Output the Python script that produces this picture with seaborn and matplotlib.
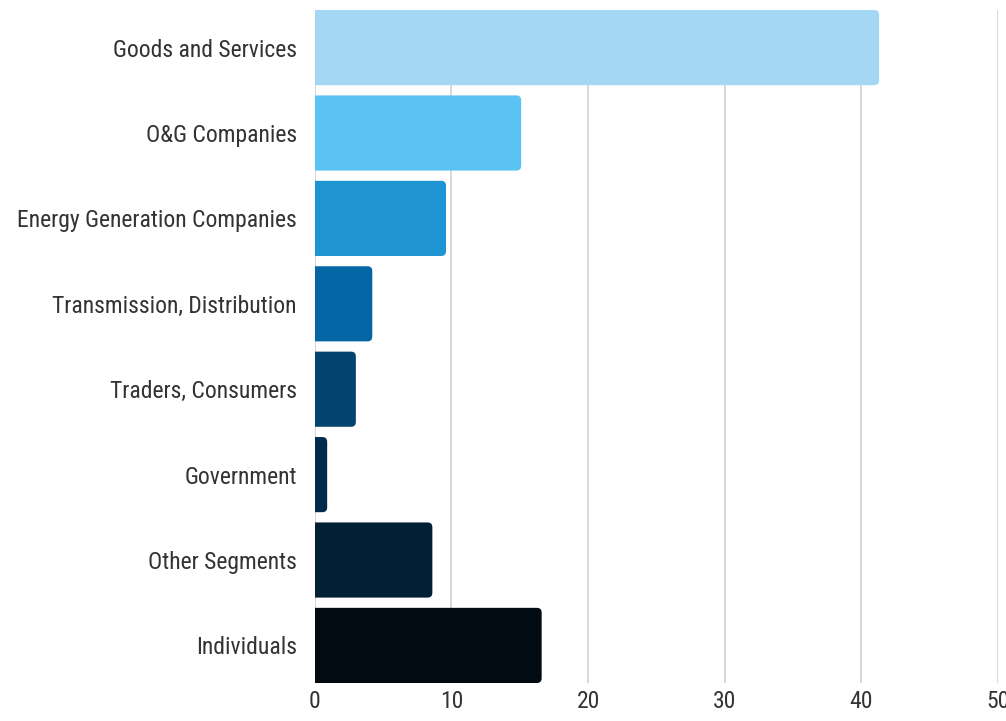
import pandas as pd
import matplotlib
matplotlib.use("Agg")
import matplotlib.pyplot as plt
from matplotlib.patches import FancyBboxPatch
import seaborn as sns

# chart data
segments = ["Goods and Services", "O&G Companies", "Energy Generation Companies",
            "Transmission, Distribution", "Traders, Consumers", "Government",
            "Other Segments", "Individuals"]
values = [41.3, 15.1, 9.6, 4.2, 3.0, 0.9, 8.6, 16.6]
bar_colors = ["#a3d7f4", "#5bc3f4", "#1e94d2", "#0466a5",
              "#03446f", "#022a4a", "#011f35", "#020a12"]
x_ticks = [0, 10, 20, 30, 40, 50]

df = pd.DataFrame({"segment": segments, "value": values})

sns.set_style("white")
plt.rcParams["font.family"] = ["Roboto Condensed", "DejaVu Sans"]

fig = plt.figure(figsize=(10.06, 7.21), dpi=100)
ax = fig.add_axes([0.313, 0.0527, 0.679, 0.9334])

sns.barplot(data=df, x="value", y="segment", hue="segment", palette=bar_colors,
            saturation=1, legend=False, width=0.88, ax=ax, zorder=2)

# swap plain bars for rounded ones
r = 0.35
for p in list(ax.patches):
    x0, y0, w, h = p.get_x(), p.get_y(), p.get_width(), p.get_height()
    fb = FancyBboxPatch((x0 - r, y0), w + r, h,
                        boxstyle=f"round,pad=0,rounding_size={r}",
                        mutation_aspect=13.66 / 85.4,
                        facecolor=p.get_facecolor(), edgecolor="none", zorder=2)
    p.remove()
    ax.add_patch(fb)

ax.set_xlim(0, 50)
ax.set_xticks(x_ticks)
ax.set_ylim(7.44, -0.44)
ax.grid(axis="x", color="#d6d6d6", linewidth=1.3, zorder=0)
for s in ax.spines.values():
    s.set_visible(False)
ax.axvline(0, color="#d6d6d6", linewidth=1.3, zorder=1)
ax.set_xlabel("")
ax.set_ylabel("")
ax.tick_params(axis="both", length=0, labelsize=17, labelcolor="#333333")
ax.tick_params(axis="y", pad=13)
ax.tick_params(axis="x", pad=5)

fig.savefig("out.png", dpi=100, facecolor="white")
